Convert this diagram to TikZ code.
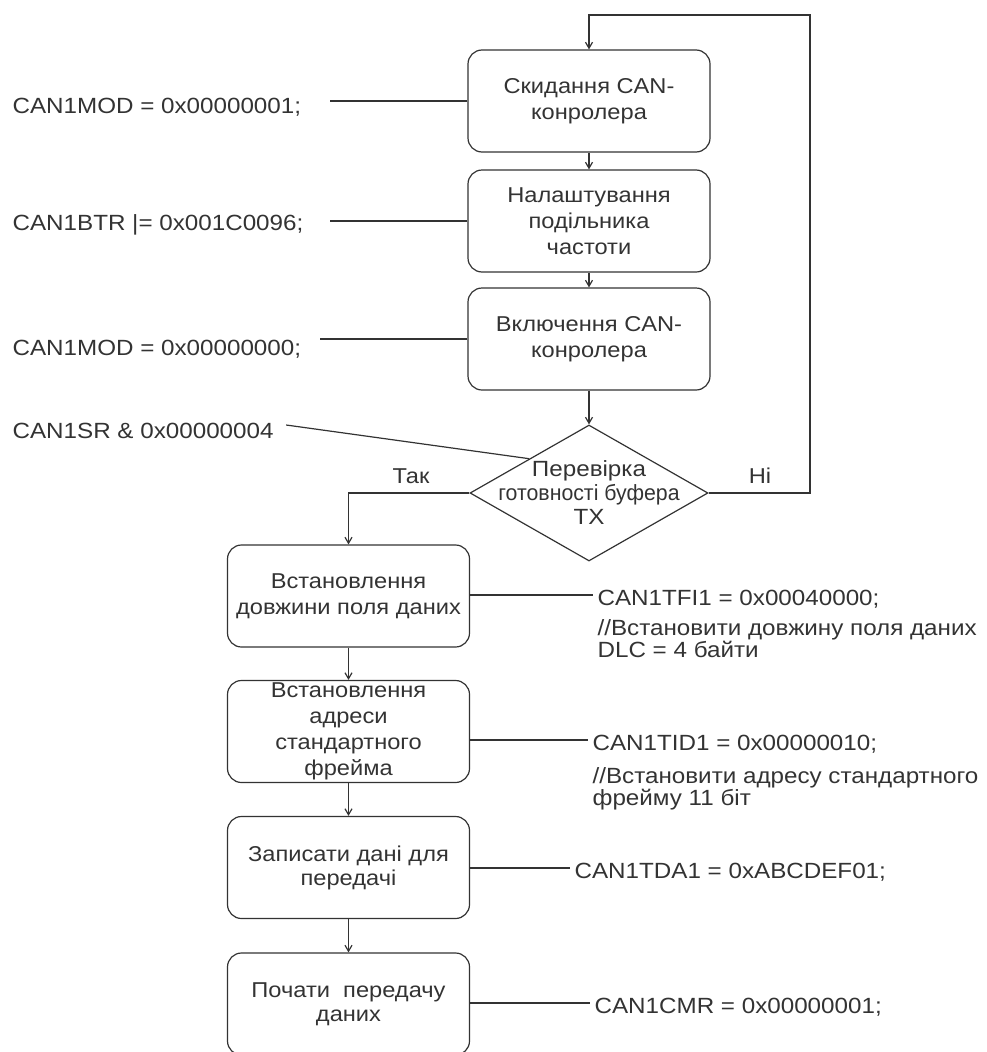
\documentclass[tikz,border=0pt]{standalone}
\usepackage{fontspec}
\setmainfont{Liberation Sans}[FakeStretch=1.1]
\usetikzlibrary{shapes.geometric}
\usetikzlibrary{arrows.meta}
\definecolor{ink}{HTML}{333333}
\tikzstyle{stepbox}=[draw=ink, rounded corners=14pt, minimum width=242pt, minimum height=102pt, align=center, inner sep=0pt, text=ink, font=\fontsize{21.5}{26}\selectfont]
\tikzstyle{checkbox}=[draw=ink, diamond, minimum width=238pt, minimum height=136pt, inner sep=0pt]
\tikzstyle{codetext}=[anchor=west, inner sep=0pt, text=ink, align=left, font=\fontsize{22}{22}\selectfont]
\tikzstyle{flow}=[draw=ink, -{Straight Barb[length=6pt,width=7pt]}]
\tikzstyle{link}=[draw=ink]

\begin{document}
\begin{tikzpicture}[x=1pt,y=-1pt,line width=1.2pt]
  \useasboundingbox (0,0) rectangle (986,1052);
  % upper column
  \node[stepbox] (reset) at (589,101) {Скидання CAN-\\конролера};
  \node[stepbox] (divider) at (589,221) {Налаштування\\подільника\\частоти};
  \node[stepbox] (enable) at (589,339) {Включення CAN-\\конролера};
  \node[checkbox] (check) at (589,493) {};
  \node[align=center, text=ink, font=\fontsize{22}{24}\selectfont] (checktext) at (check) {Перевірка\\\scalebox{0.88}[1]{готовності буфера}\\TX};
  % lower column
  \node[stepbox] (setdlc) at (348.5,596) {Встановлення\\довжини поля даних};
  \node[stepbox] (setid) at (348.5,731.5) {Встановлення\\адреси\\стандартного\\фрейма};
  \node[stepbox, font=\fontsize{21.5}{24}\selectfont] (writedata) at (348.5,867.5) {Записати дані для\\передачі};
  \node[stepbox, font=\fontsize{21.5}{24}\selectfont] (starttx) at (348.5,1004) {Почати\ \ передачу\\даних};

  % register writes on the left
  \node[codetext] (modone) at (12,107) {CAN1MOD = 0x00000001;};
  \node[codetext] (btr) at (12,225) {CAN1BTR |= 0x001C0096;};
  \node[codetext] (modzero) at (12,349) {CAN1MOD = 0x00000000;};
  \node[codetext] (sr) at (12,431) {CAN1SR \& 0x00000004};
  \draw[link] (reset.west) -- (reset.west -| 330,0);
  \draw[link] (divider.west) -- (divider.west -| 330,0);
  \draw[link] (enable.west) -- (enable.west -| 320,0);
  \draw[link] ([xshift=12pt,yshift=6pt]sr.east) -- (check.north west);

  % register writes on the right
  \node[codetext] (tfi) at (597,599) {CAN1TFI1 = 0x00040000;};
  \node[codetext, font=\fontsize{22}{22}\selectfont] (tficomment) at (597,639) {//Встановити довжину поля даних\\DLC = 4 байти};
  \node[codetext] (tid) at (592,744) {CAN1TID1 = 0x00000010;};
  \node[codetext, font=\fontsize{22}{22}\selectfont] (tidcomment) at (592,789) {//Встановити адресу стандартного\\фрейму 11 біт};
  \node[codetext] (tda) at (574,872) {CAN1TDA1 = 0xABCDEF01;};
  \node[codetext] (cmr) at (594,1007) {CAN1CMR = 0x00000001;};
  \draw[link] ([yshift=4pt]tfi.west -| setdlc.east) -- ([xshift=-4pt,yshift=4pt]tfi.west);
  \draw[link] ([yshift=4pt]tid.west -| setid.east) -- ([xshift=-4pt,yshift=4pt]tid.west);
  \draw[link] ([yshift=4pt]tda.west -| writedata.east) -- ([xshift=-4pt,yshift=4pt]tda.west);
  \draw[link] ([yshift=4pt]cmr.west -| starttx.east) -- ([xshift=-4pt,yshift=4pt]cmr.west);

  % flow
  \coordinate (loopcorner) at (810,15);
  \draw[flow] (reset) -- (divider);
  \draw[flow] (divider) -- (enable);
  \draw[flow] (enable) -- (check);
  \draw[flow] (check.east) -| (loopcorner) -| (reset.north);
  \draw[flow] (check.west) -| (setdlc.north);
  \draw[flow] (setdlc) -- (setid);
  \draw[flow] (setid) -- (writedata);
  \draw[flow] (writedata) -- (starttx);
  \node[text=ink, font=\fontsize{21.5}{24}\selectfont] (yes) at (411,476) {Так};
  \node[text=ink, font=\fontsize{21.5}{24}\selectfont] (no) at (760,476) {Ні};
\end{tikzpicture}
\end{document}
